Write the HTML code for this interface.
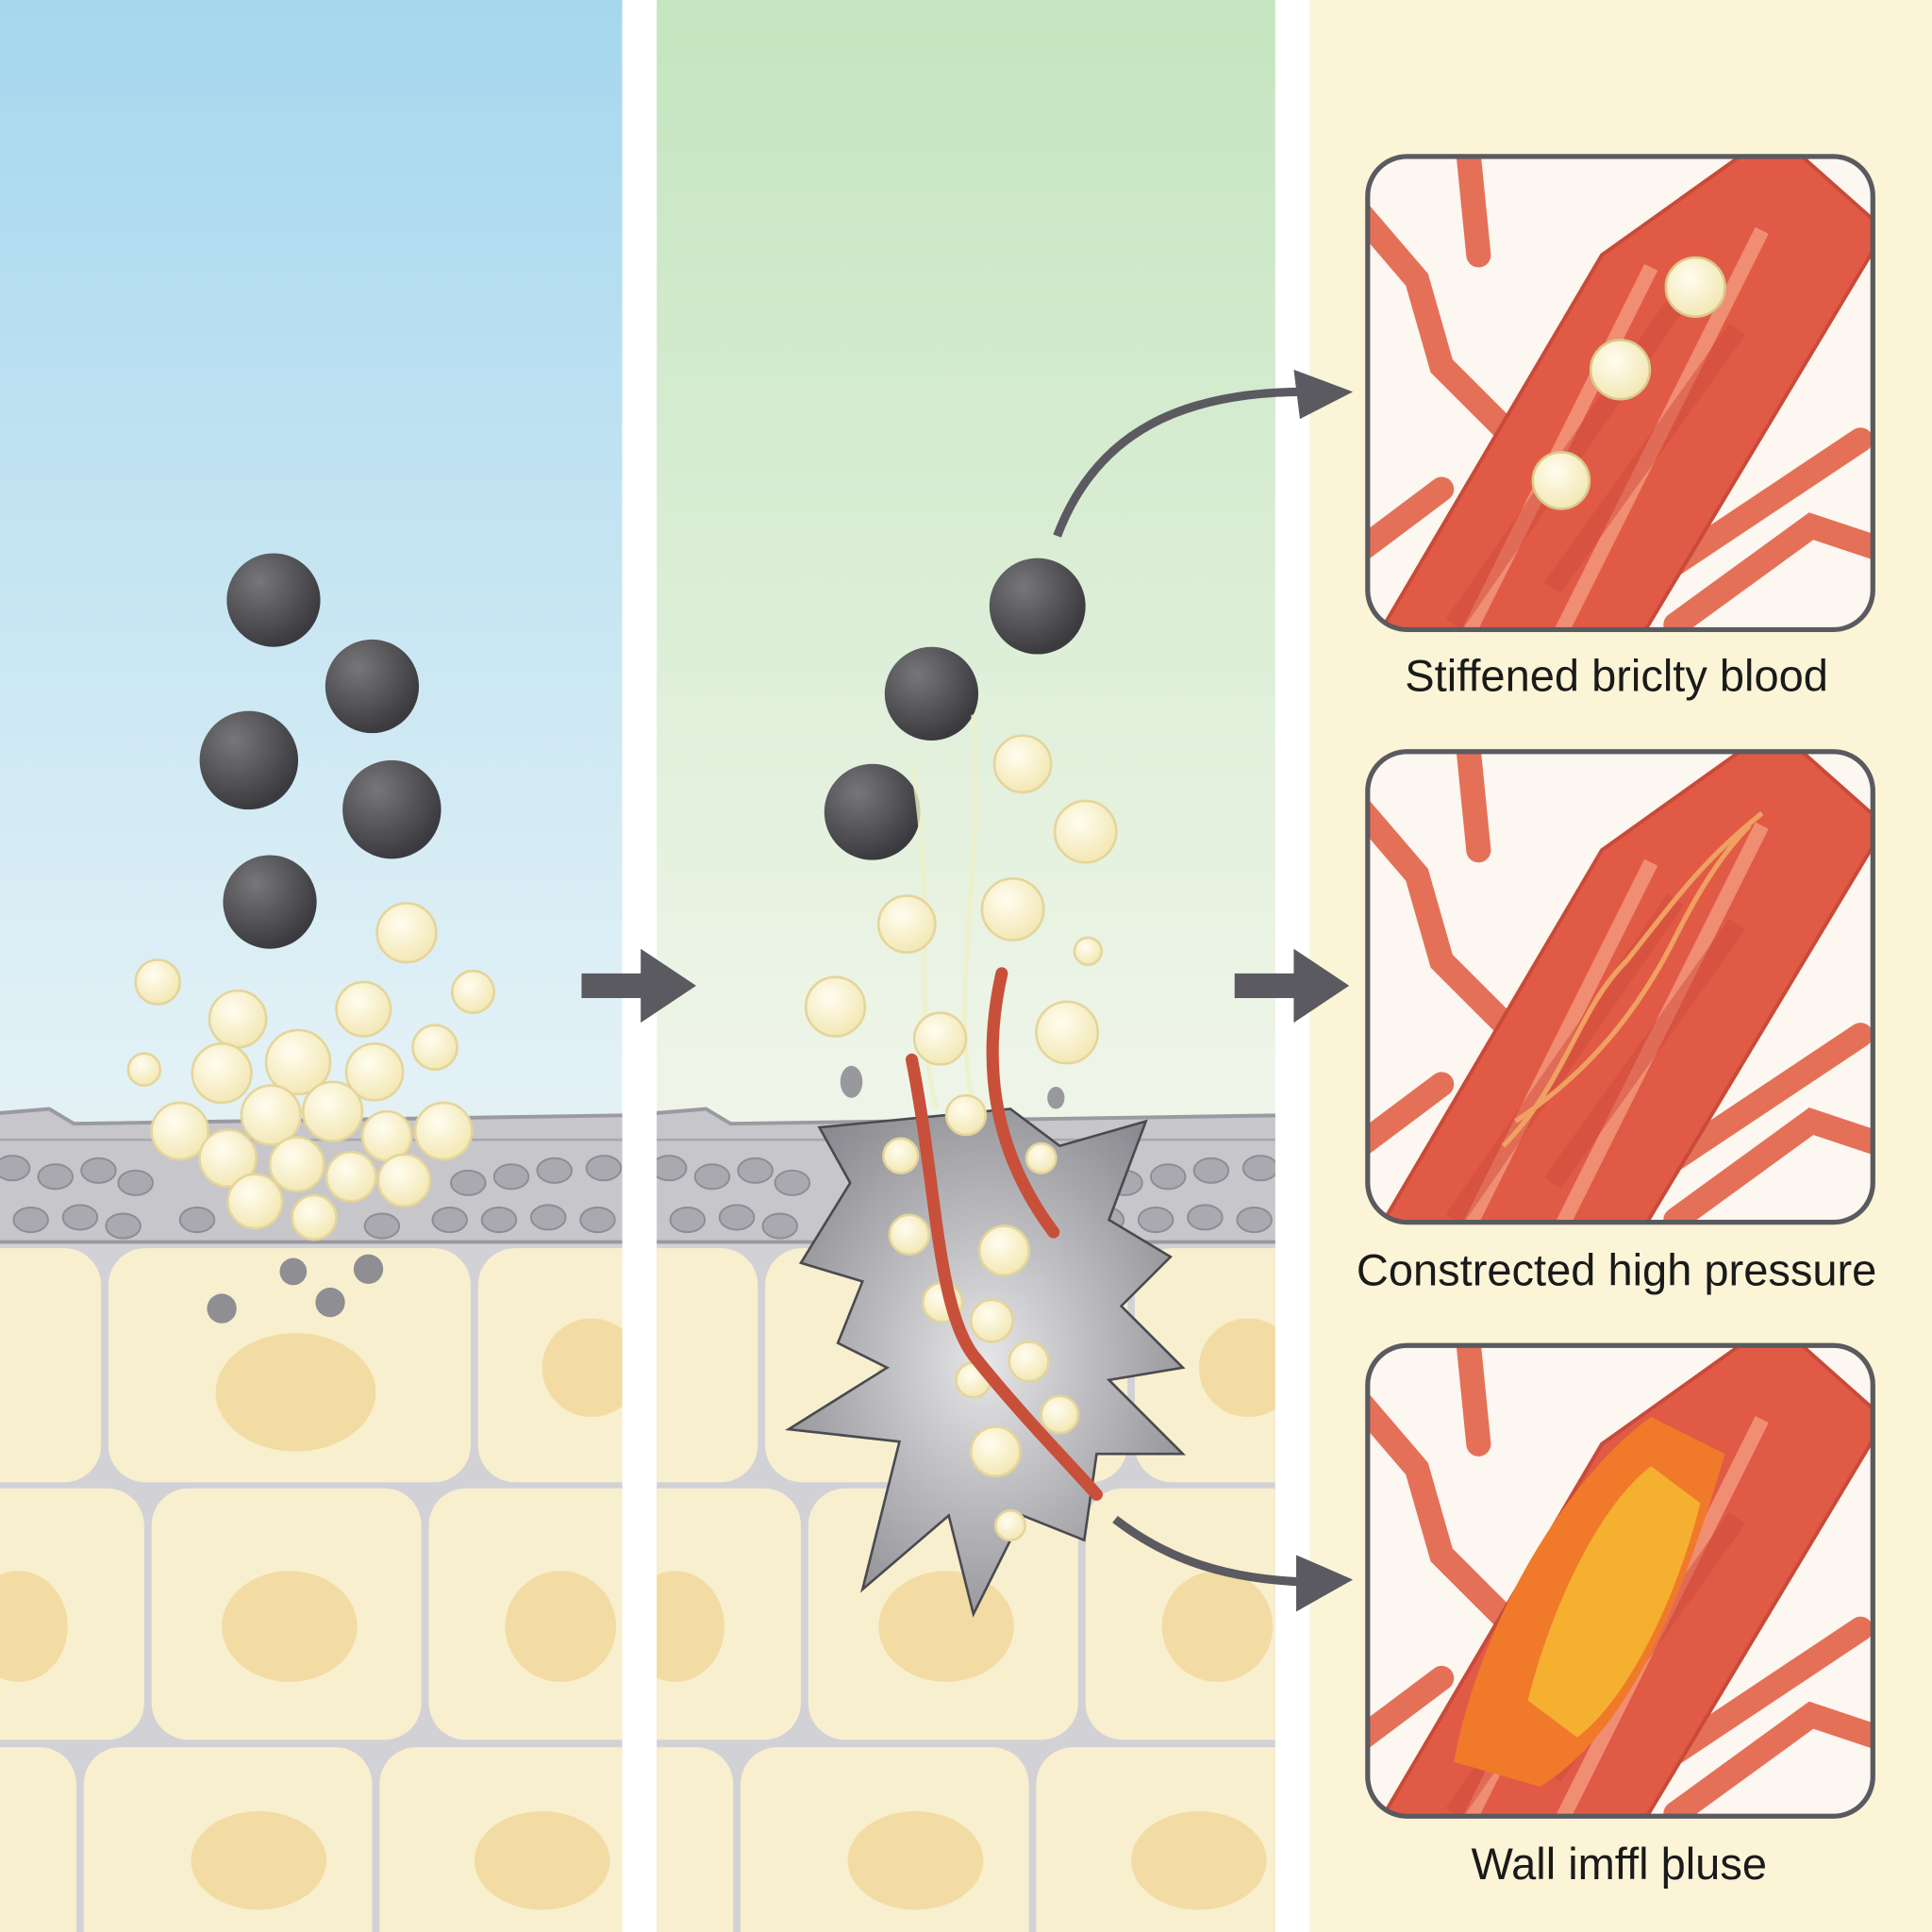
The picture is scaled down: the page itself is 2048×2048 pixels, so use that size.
<!DOCTYPE html>
<html><head><style>html,body{margin:0;padding:0;background:#fff}svg{display:block}</style></head><body>
<svg width="2048" height="2048" viewBox="0 0 1568 1568" xmlns="http://www.w3.org/2000/svg">
<defs>
<linearGradient id="g1" x1="0" y1="0" x2="0" y2="1"><stop offset="0" stop-color="#a5d7ee"/><stop offset="0.55" stop-color="#e2f1f6"/><stop offset="1" stop-color="#f4f4e6"/></linearGradient>
<linearGradient id="g2" x1="0" y1="0" x2="0" y2="1"><stop offset="0" stop-color="#c4e5bf"/><stop offset="0.55" stop-color="#eef5e8"/><stop offset="1" stop-color="#f6f6f2"/></linearGradient>
<radialGradient id="bk" cx="0.35" cy="0.3" r="0.7"><stop offset="0" stop-color="#77777a"/><stop offset="1" stop-color="#3b3b3f"/></radialGradient>
<radialGradient id="yb" cx="0.4" cy="0.35" r="0.7"><stop offset="0" stop-color="#fffdf0"/><stop offset="1" stop-color="#f2e6b0"/></radialGradient>
<radialGradient id="cr" cx="0.5" cy="0.5" r="0.6"><stop offset="0" stop-color="#e6e6e8"/><stop offset="1" stop-color="#8a8a90"/></radialGradient>
<clipPath id="c1"><rect x="0" y="0" width="505" height="1568"/></clipPath>
<clipPath id="c2"><rect x="533" y="0" width="502" height="1568"/></clipPath>
<clipPath id="b1"><rect x="1110" y="127" width="410" height="384" rx="32"/></clipPath>
<clipPath id="b2"><rect x="1110" y="610" width="410" height="382" rx="32"/></clipPath>
<clipPath id="b3"><rect x="1110" y="1092" width="410" height="382" rx="32"/></clipPath>
<g id="cells">
<rect x="-20" y="1005" width="560" height="600" fill="#d2d2d6"/>
<rect x="-60" y="1013" width="142" height="190" rx="30" fill="#f8efcf"/>
<rect x="88" y="1013" width="294" height="190" rx="30" fill="#f8efcf"/>
<rect x="388" y="1013" width="152" height="190" rx="30" fill="#f8efcf"/>
<rect x="-60" y="1208" width="177" height="204" rx="30" fill="#f8efcf"/>
<rect x="123" y="1208" width="219" height="204" rx="30" fill="#f8efcf"/>
<rect x="348" y="1208" width="192" height="204" rx="30" fill="#f8efcf"/>
<rect x="-60" y="1418" width="122" height="182" rx="30" fill="#f8efcf"/>
<rect x="68" y="1418" width="234" height="182" rx="30" fill="#f8efcf"/>
<rect x="308" y="1418" width="232" height="182" rx="30" fill="#f8efcf"/>
<ellipse cx="240" cy="1130" rx="65" ry="48" fill="#f2dca3"/>
<ellipse cx="480" cy="1110" rx="40" ry="40" fill="#f2dca3"/>
<ellipse cx="235" cy="1320" rx="55" ry="45" fill="#f2dca3"/>
<ellipse cx="455" cy="1320" rx="45" ry="45" fill="#f2dca3"/>
<ellipse cx="15" cy="1320" rx="40" ry="45" fill="#f2dca3"/>
<ellipse cx="210" cy="1510" rx="55" ry="40" fill="#f2dca3"/>
<ellipse cx="440" cy="1510" rx="55" ry="40" fill="#f2dca3"/>
<path d="M-20 905 L40 900 L60 912 L520 905 L520 1008 L-20 1008 Z" fill="#c6c6cb" stroke="#9a9aa0" stroke-width="3"/>
<path d="M-20 925 L520 925" stroke="#a8a8ae" stroke-width="2"/>
<g fill="#a9a9af" stroke="#8d8d93" stroke-width="1.5">
<ellipse cx="10" cy="948" rx="14" ry="10"/><ellipse cx="45" cy="955" rx="14" ry="10"/><ellipse cx="80" cy="950" rx="14" ry="10"/><ellipse cx="110" cy="960" rx="14" ry="10"/><ellipse cx="25" cy="990" rx="14" ry="10"/><ellipse cx="65" cy="988" rx="14" ry="10"/><ellipse cx="100" cy="995" rx="14" ry="10"/><ellipse cx="160" cy="990" rx="14" ry="10"/>
<ellipse cx="380" cy="960" rx="14" ry="10"/><ellipse cx="415" cy="955" rx="14" ry="10"/><ellipse cx="450" cy="950" rx="14" ry="10"/><ellipse cx="490" cy="948" rx="14" ry="10"/><ellipse cx="365" cy="990" rx="14" ry="10"/><ellipse cx="405" cy="990" rx="14" ry="10"/><ellipse cx="445" cy="988" rx="14" ry="10"/><ellipse cx="485" cy="990" rx="14" ry="10"/><ellipse cx="310" cy="995" rx="14" ry="10"/>
</g>
</g>
<g id="vessel">
<path d="M-20 30 L40 100 L60 170 L140 250 M80 -20 L90 80 M250 380 L360 300 L420 320 M250 330 L400 230 M-20 330 L60 270" stroke="#e57058" stroke-width="20" fill="none" stroke-linecap="round"/>
<path d="M-10 420 L190 80 L330 -20 L420 60 L180 460 L40 520 Z" fill="#e15a46" stroke="#c94a38" stroke-width="3"/>
<path d="M40 470 L230 90 M110 480 L320 60" stroke="#f08e74" stroke-width="12" fill="none"/>
<path d="M70 380 L250 120 M150 350 L300 140" stroke="#cf4a3a" stroke-width="16" fill="none" opacity="0.5"/>
</g>
</defs>
<rect width="1568" height="1568" fill="#fff"/>
<rect x="0" y="0" width="505" height="1568" fill="url(#g1)"/>
<rect x="533" y="0" width="502" height="1568" fill="url(#g2)"/>
<rect x="1063" y="0" width="505" height="1568" fill="#fbf4d6"/>
<g clip-path="url(#c1)"><use href="#cells"/></g>
<g clip-path="url(#c2)"><use href="#cells" transform="translate(533 0)"/>
<path d="M665 915 L690 960 L650 1025 L700 1040 L680 1090 L720 1110 L640 1160 L730 1170 L700 1290 L770 1230 L790 1310 L830 1230 L880 1250 L890 1180 L960 1180 L900 1120 L960 1110 L910 1060 L950 1020 L900 990 L930 910 L860 930 L820 900 Z" fill="url(#cr)" stroke="#4a4a4f" stroke-width="2"/>
</g>
<!-- panel 1 particles -->
<g fill="url(#bk)"><circle cx="222" cy="487" r="38"/><circle cx="302" cy="557" r="38"/><circle cx="202" cy="617" r="40"/><circle cx="318" cy="657" r="40"/><circle cx="219" cy="732" r="38"/></g>
<g fill="#8e8e93"><circle cx="238" cy="1032" r="11"/><circle cx="299" cy="1030" r="12"/><circle cx="180" cy="1062" r="12"/><circle cx="268" cy="1057" r="12"/></g>
<g fill="url(#yb)" stroke="#e4d59a" stroke-width="2">
<circle cx="330" cy="757" r="24"/><circle cx="128" cy="797" r="18"/><circle cx="384" cy="805" r="17"/><circle cx="193" cy="827" r="23"/><circle cx="295" cy="819" r="22"/><circle cx="353" cy="850" r="18"/><circle cx="117" cy="868" r="13"/><circle cx="180" cy="871" r="24"/><circle cx="242" cy="862" r="26"/><circle cx="304" cy="870" r="23"/><circle cx="146" cy="918" r="23"/><circle cx="220" cy="905" r="24"/><circle cx="270" cy="902" r="24"/><circle cx="314" cy="922" r="20"/><circle cx="360" cy="918" r="23"/><circle cx="185" cy="940" r="23"/><circle cx="241" cy="945" r="22"/><circle cx="285" cy="955" r="20"/><circle cx="328" cy="958" r="21"/><circle cx="207" cy="975" r="22"/><circle cx="255" cy="988" r="18"/>
</g>
<!-- panel 2 particles -->
<g fill="url(#bk)"><circle cx="842" cy="492" r="39"/><circle cx="756" cy="563" r="38"/><circle cx="708" cy="659" r="39"/></g>
<path d="M740 620 C760 720 740 820 760 900 M790 580 C800 700 770 800 790 900" stroke="#eef0c8" stroke-width="4" fill="none" opacity="0.8"/>
<g fill="url(#yb)" stroke="#e4d59a" stroke-width="2">
<circle cx="830" cy="620" r="23"/><circle cx="881" cy="675" r="25"/><circle cx="736" cy="750" r="23"/><circle cx="822" cy="738" r="25"/><circle cx="883" cy="772" r="11"/><circle cx="678" cy="817" r="24"/><circle cx="763" cy="843" r="21"/><circle cx="866" cy="838" r="25"/><circle cx="784" cy="905" r="16"/><circle cx="731" cy="938" r="14"/><circle cx="845" cy="940" r="12"/><circle cx="738" cy="1002" r="16"/><circle cx="815" cy="1015" r="20"/><circle cx="765" cy="1057" r="16"/><circle cx="805" cy="1072" r="17"/><circle cx="835" cy="1105" r="16"/><circle cx="790" cy="1120" r="14"/><circle cx="860" cy="1148" r="15"/><circle cx="808" cy="1178" r="20"/><circle cx="820" cy="1238" r="12"/>
</g>
<g fill="#98989d"><ellipse cx="691" cy="878" rx="9" ry="13"/><ellipse cx="857" cy="891" rx="7" ry="9"/></g>
<path d="M740 860 C760 960 760 1060 790 1100 C830 1150 870 1190 890 1213" stroke="#c8503a" stroke-width="10" fill="none" stroke-linecap="round"/>
<path d="M813 790 C795 870 810 940 855 1000" stroke="#c8503a" stroke-width="10" fill="none" stroke-linecap="round"/>
<!-- arrows -->
<g fill="#5a5a60"><path d="M472 790 L520 790 L520 770 L565 800 L520 830 L520 810 L472 810 Z"/><path d="M1002 790 L1050 790 L1050 770 L1095 800 L1050 830 L1050 810 L1002 810 Z"/>
<path d="M1050 300 L1098 318 L1055 340 Z"/><path d="M1052 1262 L1098 1282 L1052 1308 Z"/></g>
<path d="M858 435 C890 350 960 318 1060 318" stroke="#5a5a60" stroke-width="7" fill="none"/>
<path d="M905 1233 C950 1268 1000 1282 1060 1284" stroke="#5a5a60" stroke-width="7" fill="none"/>
<!-- boxes -->
<g clip-path="url(#b1)"><rect x="1110" y="127" width="410" height="384" fill="#fcf7f0"/><use href="#vessel" transform="translate(1110 127)"/>
<g fill="url(#yb)" stroke="#d9c98a" stroke-width="2"><circle cx="1376" cy="233" r="24"/><circle cx="1315" cy="300" r="24"/><circle cx="1267" cy="390" r="23"/></g></g>
<g clip-path="url(#b2)"><rect x="1110" y="610" width="410" height="382" fill="#fcf7f0"/><use href="#vessel" transform="translate(1110 610)"/>
<path d="M1220 930 C1270 880 1280 820 1320 780 C1360 730 1380 700 1430 660 M1230 910 C1290 870 1330 820 1360 760 C1380 720 1400 690 1420 670" stroke="#f0a060" stroke-width="4" fill="none"/></g>
<g clip-path="url(#b3)"><rect x="1110" y="1092" width="410" height="382" fill="#fcf7f0"/><use href="#vessel" transform="translate(1110 1092)"/>
<path d="M1180 1430 C1200 1320 1270 1200 1340 1150 L1400 1180 C1370 1280 1330 1400 1250 1450 Z" fill="#f07a2a"/>
<path d="M1240 1380 C1260 1300 1300 1220 1340 1190 L1380 1220 C1360 1300 1320 1380 1280 1410 Z" fill="#f5b030"/></g>
<g fill="none" stroke="#5a5a60" stroke-width="4"><rect x="1110" y="127" width="410" height="384" rx="32"/><rect x="1110" y="610" width="410" height="382" rx="32"/><rect x="1110" y="1092" width="410" height="382" rx="32"/></g>
<g font-family="Liberation Sans, sans-serif" font-size="36" fill="#1a1a1a" text-anchor="middle">
<text x="1312" y="561">Stiffened briclty blood</text>
<text x="1312" y="1043">Constrected high pressure</text>
<text x="1314" y="1525">Wall imffl þluse</text>
</g>
</svg>
</body></html>
